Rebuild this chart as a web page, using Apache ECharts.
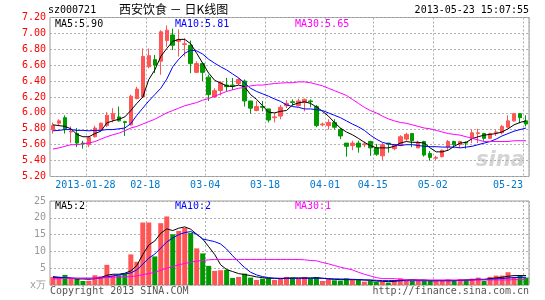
<!DOCTYPE html>
<html><head><meta charset="utf-8">
<script src="https://cdn.jsdelivr.net/npm/echarts@6/dist/echarts.min.js"></script>
<style>html,body{margin:0;padding:0;background:#fff}#c{width:545px;height:300px}</style>
</head><body><div id="c"></div>
<script>
// ---- data ----
const dates = [
 '2013-01-18','2013-01-21','2013-01-22','2013-01-23','2013-01-24','2013-01-25',
 '2013-01-28','2013-01-29','2013-01-30','2013-01-31','2013-02-01',
 '2013-02-04','2013-02-05','2013-02-06','2013-02-07','2013-02-08',
 '2013-02-18','2013-02-19','2013-02-20','2013-02-21','2013-02-22',
 '2013-02-25','2013-02-26','2013-02-27','2013-02-28','2013-03-01',
 '2013-03-04','2013-03-05','2013-03-06','2013-03-07','2013-03-08',
 '2013-03-11','2013-03-12','2013-03-13','2013-03-14','2013-03-15',
 '2013-03-18','2013-03-19','2013-03-20','2013-03-21','2013-03-22',
 '2013-03-25','2013-03-26','2013-03-27','2013-03-28','2013-03-29',
 '2013-04-01','2013-04-02','2013-04-03',
 '2013-04-08','2013-04-09','2013-04-10','2013-04-11','2013-04-12',
 '2013-04-15','2013-04-16','2013-04-17','2013-04-18','2013-04-19',
 '2013-04-22','2013-04-23','2013-04-24','2013-04-25','2013-04-26',
 '2013-05-02','2013-05-03',
 '2013-05-06','2013-05-07','2013-05-08','2013-05-09','2013-05-10',
 '2013-05-13','2013-05-14','2013-05-15','2013-05-16','2013-05-17',
 '2013-05-20','2013-05-21','2013-05-22','2013-05-23'
];
const opens = [5.79,5.87,5.94,5.76,5.74,5.62,5.60,5.70,5.79,5.84,5.92,5.95,5.89,5.85,6.18,6.20,6.58,6.67,6.65,6.91,
 6.98,6.90,6.86,6.85,6.51,6.62,6.45,6.20,6.28,6.35,6.35,6.37,6.40,6.15,6.03,6.08,6.05,5.94,5.96,6.09,
 6.14,6.09,6.13,6.15,6.08,5.85,5.84,5.88,5.79,5.62,5.59,5.62,5.60,5.64,5.56,5.46,5.62,5.55,5.59,5.67,
 5.74,5.56,5.64,5.49,5.43,5.45,5.57,5.64,5.60,5.63,5.68,5.74,5.74,5.68,5.75,5.75,5.82,5.90,5.99,5.90];
const closes = [5.84,5.90,5.80,5.77,5.62,5.61,5.69,5.81,5.87,5.97,5.99,5.90,5.88,6.21,6.30,6.71,6.72,6.60,7.02,7.04,
 6.85,6.92,6.87,6.62,6.62,6.51,6.23,6.28,6.38,6.33,6.34,6.42,6.15,6.06,6.08,6.07,5.91,5.95,6.07,6.12,
 6.13,6.15,6.17,6.14,5.84,5.86,5.88,5.82,5.71,5.58,5.62,5.57,5.61,5.56,5.48,5.60,5.61,5.60,5.70,5.73,
 5.65,5.63,5.47,5.44,5.44,5.53,5.64,5.60,5.64,5.62,5.75,5.75,5.68,5.74,5.76,5.83,5.90,5.99,5.94,5.86];
const lows = [5.74,5.84,5.74,5.62,5.57,5.55,5.57,5.69,5.78,5.82,5.88,5.89,5.71,5.84,6.17,6.19,6.56,6.50,6.48,6.83,
 6.79,6.71,6.71,6.50,6.50,6.40,6.15,6.19,6.22,6.27,6.29,6.35,6.08,5.99,6.02,6.02,5.88,5.88,5.92,6.06,
 6.09,6.08,6.02,6.07,5.82,5.83,5.79,5.79,5.67,5.45,5.53,5.50,5.57,5.46,5.46,5.40,5.50,5.53,5.58,5.65,
 5.57,5.56,5.45,5.40,5.40,5.44,5.53,5.56,5.56,5.55,5.62,5.62,5.65,5.67,5.71,5.73,5.81,5.89,5.87,5.83];
const highs = [5.88,5.92,5.97,5.83,5.81,5.65,5.71,5.84,5.88,6.01,6.06,6.08,5.90,6.23,6.33,6.81,6.81,6.73,7.04,7.10,
 7.06,7.05,6.94,6.91,6.65,6.63,6.48,6.31,6.40,6.44,6.44,6.44,6.42,6.15,6.15,6.15,6.05,6.00,6.10,6.16,
 6.17,6.18,6.18,6.17,6.10,5.88,5.92,5.92,5.81,5.62,5.65,5.65,5.64,5.65,5.61,5.62,5.62,5.61,5.72,5.75,
 5.74,5.65,5.65,5.52,5.46,5.54,5.66,5.65,5.65,5.64,5.79,5.80,5.75,5.75,5.79,5.85,5.97,6.00,6.00,5.97];
const ma5 = [5.85,5.84,5.83,5.80,5.73,5.70,5.70,5.74,5.77,5.875,5.90,5.92,5.95,6.03,6.12,6.20,6.42,6.54,6.71,6.81,
 6.90,6.925,6.925,6.87,6.75,6.625,6.50,6.41,6.375,6.34,6.33,6.35,6.33,6.23,6.17,6.09,6.01,6.00,6.02,6.03,
 6.10,6.125,6.14,6.12,6.075,6.02,5.96,5.88,5.81,5.76,5.725,5.68,5.63,5.59,5.56,5.56,5.56,5.58,5.62,5.64,
 5.63,5.63,5.62,5.56,5.51,5.51,5.53,5.58,5.62,5.63,5.675,5.70,5.72,5.73,5.74,5.76,5.80,5.85,5.88,5.90];
const ma10 = [5.775,5.78,5.79,5.79,5.78,5.78,5.775,5.78,5.78,5.79,5.79,5.80,5.81,5.865,5.97,6.06,6.15,6.23,6.31,6.425,
 6.58,6.675,6.75,6.79,6.78,6.74,6.675,6.625,6.58,6.54,6.49,6.44,6.375,6.31,6.27,6.24,6.21,6.175,6.145,6.10,
 6.08,6.07,6.05,6.05,6.04,6.03,6.00,5.97,5.94,5.90,5.86,5.825,5.78,5.72,5.67,5.63,5.61,5.60,5.59,5.60,
 5.60,5.59,5.58,5.575,5.575,5.57,5.57,5.57,5.56,5.57,5.58,5.60,5.62,5.64,5.67,5.71,5.74,5.77,5.79,5.81];
const ma30 = [5.545,5.56,5.58,5.60,5.60,5.61,5.62,5.64,5.67,5.70,5.725,5.745,5.775,5.81,5.83,5.86,5.89,5.92,5.96,6.00,
 6.03,6.06,6.09,6.11,6.13,6.16,6.18,6.21,6.24,6.27,6.29,6.31,6.32,6.34,6.35,6.35,6.36,6.37,6.375,6.38,
 6.38,6.39,6.39,6.38,6.36,6.34,6.31,6.28,6.25,6.22,6.17,6.12,6.07,6.03,6.00,5.96,5.925,5.90,5.88,5.87,
 5.85,5.83,5.81,5.80,5.78,5.76,5.74,5.73,5.72,5.70,5.68,5.66,5.64,5.64,5.64,5.64,5.64,5.65,5.65,5.65];
const volumes = [2.4,2.4,3.0,2.0,1.8,1.2,1.25,2.9,2.6,6.0,2.8,2.9,3.3,9.1,6.9,18.6,18.6,8.5,18.4,20.4,
 15.1,16.1,17.0,15.5,10.9,9.4,5.7,4.2,4.4,4.5,2.1,2.4,3.4,2.2,1.5,1.9,2.0,1.5,1.9,2.4,
 2.2,2.0,2.4,2.0,2.3,1.2,1.7,1.4,1.3,2.0,1.5,1.5,1.0,1.2,1.0,1.0,0.7,1.5,2.0,1.5,
 1.2,1.3,1.3,1.2,1.3,1.2,1.7,1.2,1.7,1.6,1.9,2.2,1.2,2.4,2.8,2.8,3.8,2.4,2.8,2.2];
const vma5 = [2.5,2.3,2.2,2.0,1.8,1.8,1.7,1.9,2.2,2.9,3.2,3.2,3.5,4.2,5.8,9.1,11.9,13.1,15.4,16.7,
 16.2,16.9,17.3,16.6,15.1,13.7,11.4,9.1,6.0,4.6,4.0,3.4,3.1,2.8,2.4,2.2,2.0,2.0,1.9,2.0,
 2.1,2.1,2.1,2.1,2.2,2.0,1.8,1.7,1.6,1.6,1.6,1.6,1.5,1.4,1.2,1.1,1.0,1.1,1.3,1.5,
 1.6,1.5,1.5,1.3,1.3,1.3,1.3,1.3,1.4,1.5,1.6,1.7,1.7,1.9,2.1,2.3,2.6,2.8,2.8,2.8];
const vma10 = [2.2,2.2,2.2,2.1,2.0,2.0,2.0,2.0,2.1,2.4,2.7,3.0,3.3,3.6,4.5,6.2,8.0,9.2,11.0,12.8,
 14.0,15.0,15.6,15.9,15.1,13.7,13.3,12.9,12.2,10.7,8.7,6.9,5.2,3.8,3.0,2.5,2.2,2.0,2.0,2.0,
 2.0,2.0,2.0,2.0,2.0,2.0,1.9,1.8,1.8,1.7,1.7,1.6,1.5,1.5,1.4,1.3,1.3,1.3,1.3,1.3,
 1.3,1.3,1.3,1.3,1.3,1.3,1.3,1.3,1.4,1.4,1.5,1.6,1.6,1.7,1.8,1.9,2.1,2.2,2.3,2.3];
const vma30 = [1.8,1.9,2.0,2.0,2.0,2.0,2.0,2.0,2.1,2.2,2.3,2.4,2.4,2.5,2.7,3.1,3.4,3.8,4.4,5.0,
 5.5,6.0,6.4,6.8,7.1,7.3,7.5,7.6,7.6,7.6,7.6,7.6,7.6,7.6,7.6,7.6,7.6,7.6,7.6,7.6,
 7.6,7.6,7.5,7.3,7.2,6.7,6.3,5.8,5.3,4.9,4.5,3.8,3.2,2.7,2.2,1.9,1.9,1.9,1.7,1.5,
 1.5,1.5,1.5,1.5,1.5,1.5,1.5,1.5,1.5,1.5,1.5,1.5,1.5,1.5,1.5,1.5,1.5,1.6,1.6,1.6];
const tickDates = ['2013-01-28','2013-02-18','2013-03-04','2013-03-18','2013-04-01','2013-04-15','2013-05-02','2013-05-23'];
const tickLabels = ['2013-01-28','02-18','03-04','03-18','04-01','04-15','05-02','05-23'];
const priceMin = 5.2, priceMax = 7.2, priceStep = 0.2;
const volMin = 0, volMax = 25, volStep = 5;

// ---- styles ----
const RED = '#ff5555', GREEN = '#009900';
const MONO = 'DejaVu Sans Mono';
const GRID = '#b0b0b0', FRAME = '#999999';
const tickIdx = tickDates.map(d => dates.indexOf(d));
const tickSet = new Set(tickIdx);
const lastIdx = dates.length - 1;

const candleData = dates.map((d, i) => [opens[i], closes[i], lows[i], highs[i]]);
const volData = volumes.map((v, i) => ({value: v, itemStyle: {color: closes[i] >= opens[i] ? RED : GREEN}}));

const chart = echarts.init(document.getElementById('c'), null, {renderer: 'canvas'});
const catAxis = (gi, showLabels) => ({
  type: 'category', gridIndex: gi, data: dates, boundaryGap: true,
  axisLine: {show: false}, axisTick: {show: false},
  axisLabel: showLabels ? {
    show: true, interval: (idx) => tickSet.has(idx), margin: 4,
    fontFamily: MONO, fontSize: 10, color: '#0077cc',
    formatter: (val, idx) => {
      const k = tickIdx.indexOf(idx);
      if (k < 0) return '';
      return (idx === lastIdx ? '{b|' : '{a|') + tickLabels[k] + '}';
    },
    rich: {
      a: {fontFamily: MONO, fontSize: 10, color: '#0077cc', padding: [0, 7, 0, 0]},
      b: {fontFamily: MONO, fontSize: 10, color: '#0077cc', padding: [0, 36, 0, 0]}
    }
  } : {show: false},
  splitLine: {show: true, interval: (idx) => tickSet.has(idx), lineStyle: {color: GRID, type: [2, 2], width: 1}}
});

chart.setOption({
  animation: false,
  backgroundColor: '#ffffff',
  grid: [
    {left: 50, right: 16, top: 17.5, height: 159, show: true, borderColor: FRAME, borderWidth: 1, backgroundColor: 'transparent'},
    {left: 50, right: 16, top: 201, height: 84, show: true, borderColor: FRAME, borderWidth: 1, backgroundColor: 'transparent'}
  ],
  xAxis: [catAxis(0, true), catAxis(1, false)],
  yAxis: [
    {type: 'value', gridIndex: 0, min: priceMin, max: priceMax, interval: priceStep, scale: true,
     axisLine: {show: false}, axisTick: {show: false},
     axisLabel: {margin: 4, fontFamily: MONO, fontSize: 10, color: '#ff0000', formatter: v => v.toFixed(2)},
     splitLine: {show: true, lineStyle: {color: GRID, type: [2, 2], width: 1}}},
    {type: 'value', gridIndex: 1, min: volMin, max: volMax, interval: volStep,
     axisLine: {show: false}, axisTick: {show: false},
     axisLabel: {margin: 4, fontFamily: MONO, fontSize: 10, color: '#999999', formatter: v => v === 0 ? 'x万' : String(v)},
     splitLine: {show: true, lineStyle: {color: GRID, type: [2, 2], width: 1}}}
  ],
  series: [
    {type: 'candlestick', xAxisIndex: 0, yAxisIndex: 0, data: candleData, barWidth: 4,
     itemStyle: {color: RED, color0: GREEN, borderColor: RED, borderColor0: GREEN, borderWidth: 1}},
    {type: 'line', xAxisIndex: 0, yAxisIndex: 0, data: ma5, showSymbol: false, symbol: 'none',
     lineStyle: {color: '#000000', width: 1}},
    {type: 'line', xAxisIndex: 0, yAxisIndex: 0, data: ma10, showSymbol: false, symbol: 'none',
     lineStyle: {color: '#0000ff', width: 1}},
    {type: 'line', xAxisIndex: 0, yAxisIndex: 0, data: ma30, showSymbol: false, symbol: 'none',
     lineStyle: {color: '#ff00ff', width: 1}},
    {type: 'bar', xAxisIndex: 1, yAxisIndex: 1, data: volData, barWidth: 5},
    {type: 'line', xAxisIndex: 1, yAxisIndex: 1, data: vma5, showSymbol: false, symbol: 'none',
     lineStyle: {color: '#000000', width: 1}},
    {type: 'line', xAxisIndex: 1, yAxisIndex: 1, data: vma10, showSymbol: false, symbol: 'none',
     lineStyle: {color: '#0000ff', width: 1}},
    {type: 'line', xAxisIndex: 1, yAxisIndex: 1, data: vma30, showSymbol: false, symbol: 'none',
     lineStyle: {color: '#ff00ff', width: 1}}
  ],
  graphic: [
    {type: 'text', left: 48, top: 5, style: {text: 'sz000721', font: '10px ' + MONO, fill: '#000'}},
    {type: 'text', left: 119, top: 3, style: {text: '西安饮食 － 日K线图', font: '12px "Noto Sans CJK SC"', fill: '#000'}},
    {type: 'text', right: 16, top: 5, style: {text: '2013-05-23 15:07:55', font: '10px ' + MONO, fill: '#000'}},
    {type: 'text', left: 55, top: 19, style: {text: 'MA5:' + ma5[lastIdx].toFixed(2), font: '10px ' + MONO, fill: '#000'}},
    {type: 'text', left: 175, top: 19, style: {text: 'MA10:' + ma10[lastIdx].toFixed(2), font: '10px ' + MONO, fill: '#0000ff'}},
    {type: 'text', left: 295, top: 19, style: {text: 'MA30:' + ma30[lastIdx].toFixed(2), font: '10px ' + MONO, fill: '#ff00ff'}},
    {type: 'text', left: 55, top: 201, style: {text: 'MA5:' + Math.floor(vma5[lastIdx]), font: '10px ' + MONO, fill: '#000'}},
    {type: 'text', left: 175, top: 201, style: {text: 'MA10:' + Math.floor(vma10[lastIdx]), font: '10px ' + MONO, fill: '#0000ff'}},
    {type: 'text', left: 295, top: 201, style: {text: 'MA30:' + Math.floor(vma30[lastIdx]), font: '10px ' + MONO, fill: '#ff00ff'}},
    {type: 'text', left: 50, top: 286, style: {text: 'Copyright 2013 SINA.COM', font: '10px ' + MONO, fill: '#555'}},
    {type: 'text', right: 16, top: 286, style: {text: 'http://finance.sina.com.cn', font: '10px ' + MONO, fill: '#555'}},
    {type: 'text', left: 476, top: 150, z: -1, style: {text: 'sina', font: 'italic bold 21px "DejaVu Sans"', fill: '#d4d4d4'}}
  ]
});
</script></body></html>
